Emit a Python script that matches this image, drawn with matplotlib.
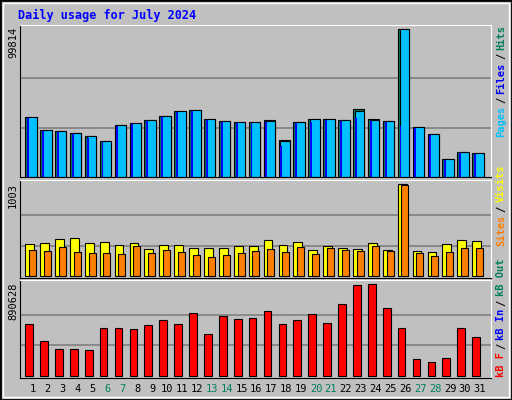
import matplotlib
matplotlib.use("Agg")
import matplotlib.pyplot as plt
import numpy as np
from matplotlib.patches import Rectangle

days = np.arange(1, 32)
weekend = [6, 7, 13, 14, 20, 21, 27, 28]

hits = [40196, 31387, 30711, 29355, 27323, 23936, 34775, 36130, 38162, 40872, 44259, 44936, 38840, 37484, 36807, 36807,
        38162, 24613, 36807, 38840, 38840, 38162, 45840, 38840, 37484, 99814, 33420, 28678, 12419, 17162, 16484]
files = [40196, 31387, 30711, 29355, 27323, 23936, 34775, 36130, 38162, 40872, 44259, 44936, 38840, 37484, 36807, 36807,
         37484, 23936, 36807, 38840, 38840, 38162, 44259, 38162, 37484, 99814, 33420, 28678, 12419, 17162, 16484]
pages = [39500, 30700, 30000, 28700, 26600, 23300, 34100, 35400, 37500, 40200, 43500, 44200, 38100, 36800, 36100, 36100,
         36800, 21200, 36100, 36800, 38100, 37500, 39500, 37500, 36800, 34100, 32700, 28000, 11700, 16500, 15800]
visits = [349, 360, 403, 414, 360, 371, 338, 360, 294, 338, 338, 305, 305, 305, 327, 327,
          392, 338, 371, 283, 327, 305, 294, 360, 283, 1003, 273, 262, 349, 392, 382]
sites = [283, 273, 316, 262, 251, 251, 240, 327, 251, 283, 262, 229, 207, 229, 251, 273,
         294, 262, 316, 240, 305, 283, 273, 327, 273, 992, 251, 218, 262, 305, 305]
kbf = [500577, 334802, 256790, 256790, 247038, 461571, 461571, 451820, 490826, 539583, 500577, 607844, 403062, 578589,
       549335, 559086, 627347, 500577, 539583, 598092, 510329, 695607, 880886, 890628, 656601, 461571, 159275, 130020,
       169026, 461571, 373808]

GRAY = "#C0C0C0"
W, H = 512, 400
fig = plt.figure(figsize=(5.12, 4.0), dpi=100)
fig.patch.set_facecolor(GRAY)
mono = "DejaVu Sans Mono"

def panel(top, bottom):
    ax = fig.add_axes([20 / W, 1 - bottom / H, 471 / W, (bottom - top) / H])
    ax.set_facecolor(GRAY)
    ax.set_xlim(0.13, 31.74)
    ax.set_xticks([])
    ax.set_yticks([])
    for s in ["left", "bottom"]:
        ax.spines[s].set_color("black")
    for s in ["top", "right"]:
        ax.spines[s].set_color("white")
    return ax

def grid(ax, vmax):
    for f in (1 / 3, 2 / 3):
        ax.axhline(vmax * f, color="#808080", lw=1.2, zorder=0)

# top panel
ax1 = panel(25, 177)
m = max(hits)
ax1.set_ylim(0, m / 0.975)
grid(ax1, m)
ax1.bar(days - 0.52, hits, width=0.77, align="edge", color="#00805C", edgecolor="black", lw=0.8)
ax1.bar(days - 0.4, files, width=0.65, align="edge", color="#00C0FF", edgecolor="black", lw=0.8)
ax1.bar(days - 0.4, pages, width=0.13, align="edge", color="#0000FF", edgecolor="none")

# middle panel
ax2 = panel(180, 278)
m2 = max(visits)
ax2.set_ylim(-m2 * 0.02, m2 / 0.955)
grid(ax2, m2)
ax2.bar(days - 0.52, visits, width=0.59, align="edge", color="#FFFF00", edgecolor="black", lw=0.8)
ax2.bar(days - 0.27, sites, width=0.47, align="edge", color="#FF8000", edgecolor="black", lw=0.8)

# bottom panel
ax3 = panel(280, 378)
m3 = max(kbf)
ax3.set_ylim(-m3 * 0.025, m3 / 0.955)
grid(ax3, m3)
ax3.bar(days - 0.52, kbf, width=0.52, align="edge", color="#FF0000", edgecolor="black", lw=0.8)

# day labels
for d in days:
    c = "#00805C" if d in weekend else "black"
    fig.text(ax3.transData.transform((d, 0))[0] / fig.dpi / 5.12, 1 - 389 / H, str(d),
             ha="center", va="center", fontsize=7.5, family=mono, color=c)

# left max labels
for y, s in [(27, "99814"), (183, "1003"), (283, "890628")]:
    fig.text(8 / W, 1 - y / H, s, rotation=90, ha="left", va="top", fontsize=7.5, family=mono)

# right legends, built bottom-up by measuring each piece
renderer = fig.canvas.get_renderer()
def legend(ybottom, parts):
    y = 1 - ybottom / H
    for txt, col in parts:
        t = fig.text(506 / W, y, txt, rotation=90, ha="right", va="bottom",
                     fontsize=7.5, family=mono, weight="bold", color=col)
        bb = t.get_window_extent(renderer)
        y += (bb.height + 3) / (H)
legend(137, [("Pages", "#00C0FF"), ("/", "black"), ("Files", "#0000FF"), ("/", "black"), ("Hits", "#00805C")])
legend(246, [("Sites", "#FF8000"), ("/", "black"), ("Visits", "#FFFF00")])
legend(377, [("kB F", "#FF0000"), ("/", "black"), ("kB In", "#0000FF"), ("/", "black"), ("kB Out", "#00805C")])

fig.text(18 / W, 1 - 15 / H, "Daily usage for July 2024", fontsize=8.5, family=mono, weight="bold",
         color="#0000FF", va="center")

# outer border
fig.patches.append(Rectangle((0, 0), 1, 1, transform=fig.transFigure, fill=False, edgecolor="black", lw=2))
fig.patches.append(Rectangle((3 / W, 3 / H), 1 - 6 / W, 1 - 6 / H, transform=fig.transFigure, fill=False,
                             edgecolor="white", lw=1))

fig.savefig("out.png", dpi=100, facecolor=GRAY)
